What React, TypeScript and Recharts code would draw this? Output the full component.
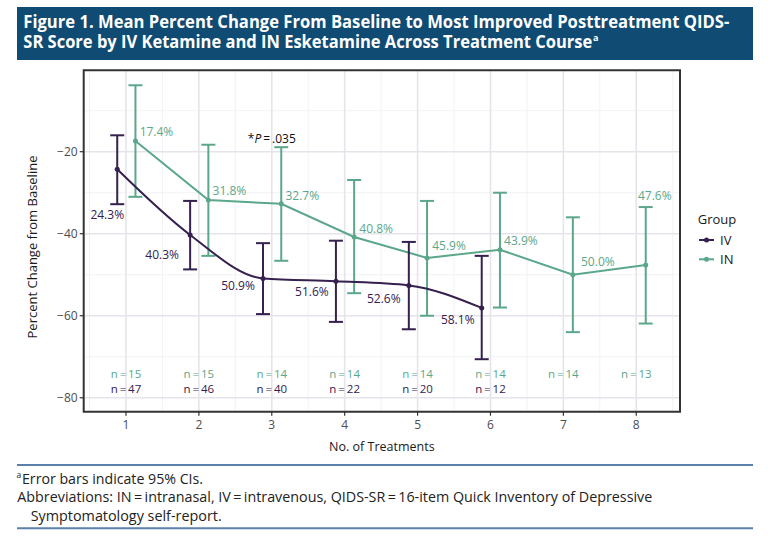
import React from "react";
import {
  ComposedChart,
  Line,
  ErrorBar,
  XAxis,
  YAxis,
  CartesianGrid,
  Scatter,
  ReferenceArea,
  Legend,
  LabelList,
} from "recharts";

// values
const treatments = [1, 2, 3, 4, 5, 6, 7, 8];
const ivMean = [-24.3, -40.3, -50.9, -51.6, -52.6, -58.1];
const ivLow = [-32.8, -48.7, -59.6, -61.5, -63.3, -70.6];
const ivHigh = [-16.0, -32.0, -42.3, -41.7, -42.0, -45.4];
const inMean = [-17.4, -31.8, -32.7, -40.8, -45.9, -43.9, -50.0, -47.6];
const inLow = [-31.0, -45.4, -46.6, -54.5, -60.0, -58.0, -64.0, -61.9];
const inHigh = [-3.8, -18.3, -18.9, -26.9, -32.0, -30.0, -36.0, -33.5];
const ivN = [47, 46, 40, 22, 20, 12];
const inN = [15, 15, 14, 14, 14, 14, 14, 13];
const yTicks = [-80, -60, -40, -20];
const yMinor = [-70, -50, -30, -10];
const xMinor = [0.5, 1.5, 2.5, 3.5, 4.5, 5.5, 6.5, 7.5, 8.5];

const X_DOMAIN = [0.42, 8.6];
const Y_DOMAIN = [-83.4, -0.15];
const IV_DODGE = -0.12;
const IN_DODGE = 0.13;
const N_IN_Y = -74.2;
const N_IV_Y = -77.8;
const P_NOTE = { x: 3, y: -16.7 };

const IV_COLOR = "#35204f";
const IN_COLOR = "#5ba78a";
const HEADER_BG = "#0f4b73";
const RULE = "#5b80a9";
const FONT = "'Open Sans', sans-serif";

// label offsets (px) from each point
const ivLabelOffset = [[-10, 45], [-28, 20], [-25, 7], [-24, 10], [-25, 13], [-24, 12]];
const inLabelOffset = [[21, -10], [21, -10], [21, -8], [22, -9], [22, -12], [21, -9], [25, -13], [9, -69]];

const ivData = ivMean.map((m, i) => ({
  x: treatments[i] + IV_DODGE,
  y: m,
  err: [m - ivLow[i], ivHigh[i] - m],
}));
const inData = inMean.map((m, i) => ({
  x: treatments[i] + IN_DODGE,
  y: m,
  err: [m - inLow[i], inHigh[i] - m],
}));
const ivNData = ivN.map((n, i) => ({ x: treatments[i], y: N_IV_Y, n }));
const inNData = inN.map((n, i) => ({ x: treatments[i], y: N_IN_Y, n }));

const minus = (v: number) => String(v).replace("-", "\u2212");
const pct = (v: number) => `${Math.abs(v).toFixed(1)}%`;

const makeLabel = (offsets: number[][], color: string) => (props: any) => {
  const { x, y, value, index } = props;
  const off = offsets[index] || [0, 0];
  return (
    <text
      x={x + off[0]}
      y={y + off[1]}
      textAnchor="middle"
      dominantBaseline="central"
      fontFamily={FONT}
      fontSize={12}
      fill={color}
    >
      {pct(value)}
    </text>
  );
};

const makeNLabel = (color: string) => (props: any) => (
  <text
    x={props.cx}
    y={props.cy}
    textAnchor="middle"
    dominantBaseline="central"
    fontFamily={FONT}
    fontSize={11.5}
    fill={color}
  >
    {`n\u2009=\u2009${props.payload.n}`}
  </text>
);

const renderPNote = (props: any) => (
  <text
    x={props.cx}
    y={props.cy}
    textAnchor="middle"
    dominantBaseline="central"
    fontFamily={FONT}
    fontSize={12}
    fill="#111"
  >
    *<tspan fontStyle="italic">P</tspan>
    {"\u2009=\u2009.035"}
  </text>
);

const renderLegend = (props: any) => {
  const order = ["IV", "IN"];
  const items = (props.payload || [])
    .filter((p: any) => order.includes(p.value))
    .sort((a: any, b: any) => order.indexOf(a.value) - order.indexOf(b.value));
  return (
    <svg width={75} height={65}>
      <text x={7.7} y={18.5} fontFamily={FONT} fontSize={13} fill="#1a1a1a">
        Group
      </text>
      {items.map((p: any, i: number) => {
        const cy = 35 + i * 19.3;
        return (
          <g key={p.value}>
            <line x1={9} x2={24} y1={cy} y2={cy} stroke={p.color} strokeWidth={2} />
            <circle cx={16.5} cy={cy} r={2.5} fill={p.color} />
            <text x={30} y={cy + 4.5} fontFamily={FONT} fontSize={13} fill="#1a1a1a">
              {p.value}
            </text>
          </g>
        );
      })}
    </svg>
  );
};

export default function App() {
  return (
    <div
      style={{
        position: "absolute",
        left: 0,
        top: 0,
        width: 768,
        height: 541,
        background: "#fff",
        fontFamily: FONT,
      }}
    >
      <div style={{ position: "absolute", left: 0, top: 0 }}>
        <ComposedChart
          width={768}
          height={541}
          margin={{ top: 70.3, right: 88, bottom: 99.3, left: 23.7 }}
        >
          <CartesianGrid
            stroke="#efedf2"
            strokeWidth={0.8}
            horizontalValues={yMinor}
            verticalValues={xMinor}
          />
          <CartesianGrid
            stroke="#e6e4eb"
            strokeWidth={1.6}
            horizontalValues={yTicks}
            verticalValues={treatments}
          />
          <XAxis
            type="number"
            dataKey="x"
            domain={X_DOMAIN}
            ticks={treatments}
            allowDataOverflow
            axisLine={false}
            tickLine={{ stroke: "#333", strokeWidth: 1.2 }}
            tickSize={4}
            tickMargin={5}
            height={30}
            tick={{ fontSize: 12, fill: "#4d4d4d", fontFamily: FONT }}
            label={{
              content: (p: any) => (
                <text
                  x={p.viewBox.x + p.viewBox.width / 2}
                  y={p.viewBox.y + 39}
                  textAnchor="middle"
                  fontFamily={FONT}
                  fontSize={12.5}
                  fill="#1a1a1a"
                >
                  No. of Treatments
                </text>
              ),
            }}
          />
          <YAxis
            type="number"
            domain={Y_DOMAIN}
            ticks={yTicks}
            allowDataOverflow
            axisLine={false}
            tickLine={{ stroke: "#333", strokeWidth: 1.2 }}
            tickSize={4}
            tickMargin={2}
            width={60}
            tickFormatter={minus}
            tick={{ fontSize: 12, fill: "#4d4d4d", fontFamily: FONT }}
            label={{
              content: (p: any) => {
                const cx = p.viewBox.x + 8;
                const cy = p.viewBox.y + p.viewBox.height / 2 + 6;
                return (
                  <text
                    x={cx}
                    y={cy}
                    transform={`rotate(-90 ${cx} ${cy})`}
                    textAnchor="middle"
                    dominantBaseline="central"
                    fontFamily={FONT}
                    fontSize={13}
                    fill="#1a1a1a"
                  >
                    Percent Change from Baseline
                  </text>
                );
              },
            }}
          />
          <Legend
            layout="vertical"
            align="center"
            verticalAlign="middle"
            content={renderLegend}
            wrapperStyle={{ left: 690, top: 205, width: 75, height: 65 }}
          />
          <Line
            data={inData}
            dataKey="y"
            name="IN"
            type="linear"
            stroke={IN_COLOR}
            strokeWidth={2}
            dot={{ r: 2.5, fill: IN_COLOR, stroke: IN_COLOR, strokeWidth: 0 }}
            activeDot={false}
            isAnimationActive={false}
          >
            <ErrorBar dataKey="err" direction="y" width={7} stroke={IN_COLOR} strokeWidth={2} />
            <LabelList dataKey="y" content={makeLabel(inLabelOffset, IN_COLOR)} />
          </Line>
          <Line
            data={ivData}
            dataKey="y"
            name="IV"
            type="monotone"
            stroke={IV_COLOR}
            strokeWidth={2}
            dot={{ r: 2.5, fill: IV_COLOR, stroke: IV_COLOR, strokeWidth: 0 }}
            activeDot={false}
            isAnimationActive={false}
          >
            <ErrorBar dataKey="err" direction="y" width={7} stroke={IV_COLOR} strokeWidth={2} />
            <LabelList dataKey="y" content={makeLabel(ivLabelOffset, IV_COLOR)} />
          </Line>
          <Scatter
            data={inNData}
            dataKey="y"
            legendType="none"
            shape={makeNLabel(IN_COLOR)}
            isAnimationActive={false}
          />
          <Scatter
            data={ivNData}
            dataKey="y"
            legendType="none"
            shape={makeNLabel(IV_COLOR)}
            isAnimationActive={false}
          />
          <Scatter
            data={[P_NOTE]}
            dataKey="y"
            legendType="none"
            shape={renderPNote}
            isAnimationActive={false}
          />
          <ReferenceArea
            x1={X_DOMAIN[0]}
            x2={X_DOMAIN[1]}
            y1={Y_DOMAIN[0]}
            y2={Y_DOMAIN[1]}
            fill="none"
            stroke="#333"
            strokeWidth={2}
            ifOverflow="visible"
          />
        </ComposedChart>
      </div>

      <svg style={{ position: "absolute", left: 0, top: 0 }} width={768} height={66}>
        <rect x={17} y={7} width={736} height={53} fill={HEADER_BG} />
        <text
          x={23.3}
          y={28.3}
          fill="#fff"
          fontFamily={FONT}
          fontWeight={700}
          fontSize={17}
          textLength={706}
          lengthAdjust="spacingAndGlyphs"
        >
          Figure 1. Mean Percent Change From Baseline to Most Improved Posttreatment QIDS-
        </text>
        <text
          x={23.3}
          y={48.3}
          fill="#fff"
          fontFamily={FONT}
          fontWeight={700}
          fontSize={17}
          textLength={569}
          lengthAdjust="spacingAndGlyphs"
        >
          SR Score by IV Ketamine and IN Esketamine Across Treatment Course
        </text>
        <text x={593} y={41} fill="#fff" fontFamily={FONT} fontWeight={700} fontSize={9}>
          a
        </text>
      </svg>

      <svg style={{ position: "absolute", left: 0, top: 455 }} width={768} height={86}>
        <line x1={17} x2={753} y1={10} y2={10} stroke={RULE} strokeWidth={2} />
        <text x={16.5} y={23} fill="#222" fontFamily={FONT} fontSize={8.5}>
          a
        </text>
        <text
          x={22}
          y={29}
          fill="#222"
          fontFamily={FONT}
          fontSize={14}
          textLength={181}
          lengthAdjust="spacingAndGlyphs"
        >
          Error bars indicate 95% CIs.
        </text>
        <text
          x={17.3}
          y={47.3}
          fill="#222"
          fontFamily={FONT}
          fontSize={14}
          textLength={635}
          lengthAdjust="spacingAndGlyphs"
        >
          {"Abbreviations: IN\u2009=\u2009intranasal, IV\u2009=\u2009intravenous, QIDS-SR\u2009=\u200916-item Quick Inventory of Depressive"}
        </text>
        <text
          x={30.7}
          y={65.7}
          fill="#222"
          fontFamily={FONT}
          fontSize={14}
          textLength={191}
          lengthAdjust="spacingAndGlyphs"
        >
          Symptomatology self-report.
        </text>
        <line x1={17} x2={753} y1={73.3} y2={73.3} stroke={RULE} strokeWidth={2} />
      </svg>
    </div>
  );
}
